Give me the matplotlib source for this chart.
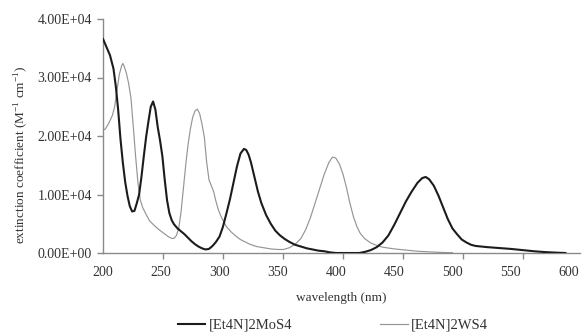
import numpy as np
import matplotlib
matplotlib.use("Agg")
import matplotlib.pyplot as plt
from matplotlib.ticker import FixedLocator, FuncFormatter

# Absorption spectra: wavelength (nm) and extinction coefficient (M^-1 cm^-1)
mos4_wl = [200, 203, 206, 209, 211, 213, 215, 217, 219, 221, 223, 225, 227, 229,
           231, 233, 235, 237, 239, 241, 243, 245, 247, 249, 251, 253, 255, 257,
           259, 261, 264, 267, 270, 273, 276, 279, 282, 285, 288, 291, 294, 297,
           300, 303, 306, 309, 312, 315, 318, 321, 323, 325, 327, 330, 333, 336,
           340, 344, 348, 352, 356, 360, 365, 370, 375, 380, 385, 390, 395, 400,
           410, 420, 425, 430, 435, 440, 445, 450, 455, 460, 465, 470, 474, 477,
           480, 484, 488, 492, 496, 500, 504, 508, 512, 516, 520, 530, 540, 550,
           560, 570, 580, 590, 597]
mos4_eps = [3.66, 3.52, 3.38, 3.15, 2.85, 2.45, 1.95, 1.55, 1.22, 0.98, 0.80, 0.71,
            0.72, 0.85, 1.00, 1.30, 1.65, 1.98, 2.25, 2.50, 2.59, 2.45, 2.15, 1.92,
            1.65, 1.25, 0.90, 0.68, 0.56, 0.49, 0.42, 0.37, 0.32, 0.26, 0.20, 0.15,
            0.11, 0.08, 0.06, 0.07, 0.12, 0.19, 0.28, 0.45, 0.68, 0.92, 1.20, 1.48,
            1.70, 1.78, 1.76, 1.68, 1.55, 1.30, 1.05, 0.85, 0.65, 0.50, 0.38, 0.30,
            0.24, 0.19, 0.14, 0.11, 0.08, 0.06, 0.04, 0.03, 0.01, 0.0, 0.0, 0.0,
            0.02, 0.05, 0.10, 0.18, 0.30, 0.48, 0.68, 0.88, 1.05, 1.20, 1.28, 1.30,
            1.26, 1.15, 0.98, 0.78, 0.58, 0.42, 0.32, 0.23, 0.18, 0.14, 0.12, 0.10,
            0.085, 0.07, 0.05, 0.03, 0.015, 0.005, 0.0]

ws4_wl = [200, 202, 205, 208, 210, 212, 214, 216, 217, 218, 220, 222, 224, 226,
          228, 230, 232, 234, 237, 240, 244, 248, 252, 256, 259, 261, 263, 265,
          267, 269, 271, 273, 275, 277, 279, 281, 283, 285, 287, 289, 291, 293,
          295, 297, 299, 301, 303, 306, 310, 314, 318, 322, 326, 332, 338, 344,
          350, 355, 360, 365, 370, 374, 378, 382, 386, 390, 394, 397, 400, 403,
          406, 409, 412, 415, 418, 421, 425, 430, 435, 440, 450, 460, 470, 480,
          490, 500]
ws4_eps = [2.10, 2.12, 2.22, 2.35, 2.50, 2.78, 3.05, 3.20, 3.24, 3.20, 3.08, 2.90,
           2.65, 2.16, 1.65, 1.20, 0.91, 0.78, 0.66, 0.55, 0.47, 0.40, 0.34, 0.28,
           0.25, 0.25, 0.30, 0.42, 0.70, 1.10, 1.50, 1.85, 2.12, 2.32, 2.43, 2.46,
           2.38, 2.20, 1.98, 1.55, 1.25, 1.15, 1.05, 0.88, 0.74, 0.64, 0.56, 0.45,
           0.36, 0.29, 0.23, 0.19, 0.15, 0.11, 0.09, 0.07, 0.06, 0.06, 0.09, 0.15,
           0.25, 0.40, 0.60, 0.85, 1.10, 1.35, 1.55, 1.64, 1.62, 1.52, 1.35, 1.12,
           0.85, 0.62, 0.45, 0.33, 0.24, 0.17, 0.13, 0.10, 0.07, 0.05, 0.03, 0.02,
           0.01, 0.005]

series_labels = ["[Et4N]2MoS4", "[Et4N]2WS4"]
x_tick_labels = [200, 250, 300, 350, 400, 450, 500, 550, 600]
y_tick_values = [0, 10000, 20000, 30000, 40000]

plt.rcParams["font.family"] = ["Liberation Serif", "DejaVu Serif"]
plt.rcParams["mathtext.fontset"] = "custom"
plt.rcParams["mathtext.rm"] = "Liberation Serif"

fig = plt.figure(figsize=(5.82, 3.32), dpi=100)
ax = fig.add_axes([103 / 582, 79 / 332, 477 / 582, 234 / 332])

axis_color = "#8a8a8a"
text_color = "#333333"

ax.plot(ws4_wl, np.array(ws4_eps) * 1e4, color="#959595", lw=0.85,
        label=series_labels[1], zorder=2)
ax.plot(mos4_wl, np.array(mos4_eps) * 1e4, color="#1c1c1c", lw=1.5,
        label=series_labels[0], zorder=3)

ax.set_xlim(200, 609.5)
ax.set_ylim(0, 40000)

for side in ("top", "right"):
    ax.spines[side].set_visible(False)
for side in ("left", "bottom"):
    ax.spines[side].set_color(axis_color)
    ax.spines[side].set_linewidth(1.0)

# labels sit at round wavelengths; tick marks follow the category spacing
ax.xaxis.set_major_locator(FixedLocator(x_tick_labels))
ax.xaxis.set_minor_locator(FixedLocator([200 + k * 51.55 for k in range(8)]))
ax.tick_params(axis="x", which="major", length=0, pad=9, labelsize=10,
               labelcolor=text_color)
ax.tick_params(axis="x", which="minor", length=4, width=1.0, color=axis_color,
               direction="out")

ax.yaxis.set_major_locator(FixedLocator(y_tick_values))
ax.yaxis.set_major_formatter(FuncFormatter(
    lambda v, p: "{:.2E}".format(v)))
ax.tick_params(axis="y", length=4, width=1.0, color=axis_color,
               direction="out", labelsize=10, labelcolor=text_color, pad=4)

ax.set_xlabel("wavelength (nm)", fontsize=9.5, color=text_color)
ax.xaxis.set_label_coords(0.5, -0.167)
ax.set_ylabel(r"extinction coefficient (M$^{-1}$ cm$^{-1}$)", fontsize=9.5,
              color=text_color)
ax.yaxis.set_label_coords(-0.153, 0.42)

handles, labels = ax.get_legend_handles_labels()
order = [1, 0]
leg = fig.legend([handles[i] for i in order], [labels[i] for i in order],
                 loc="center", bbox_to_anchor=(0.572, 0.02), ncol=2,
                 frameon=False, fontsize=10.5, handlelength=1.9,
                 handletextpad=0.25, columnspacing=6.0, borderpad=0.1)
for t in leg.get_texts():
    t.set_color(text_color)

fig.savefig("out.png", dpi=100)
